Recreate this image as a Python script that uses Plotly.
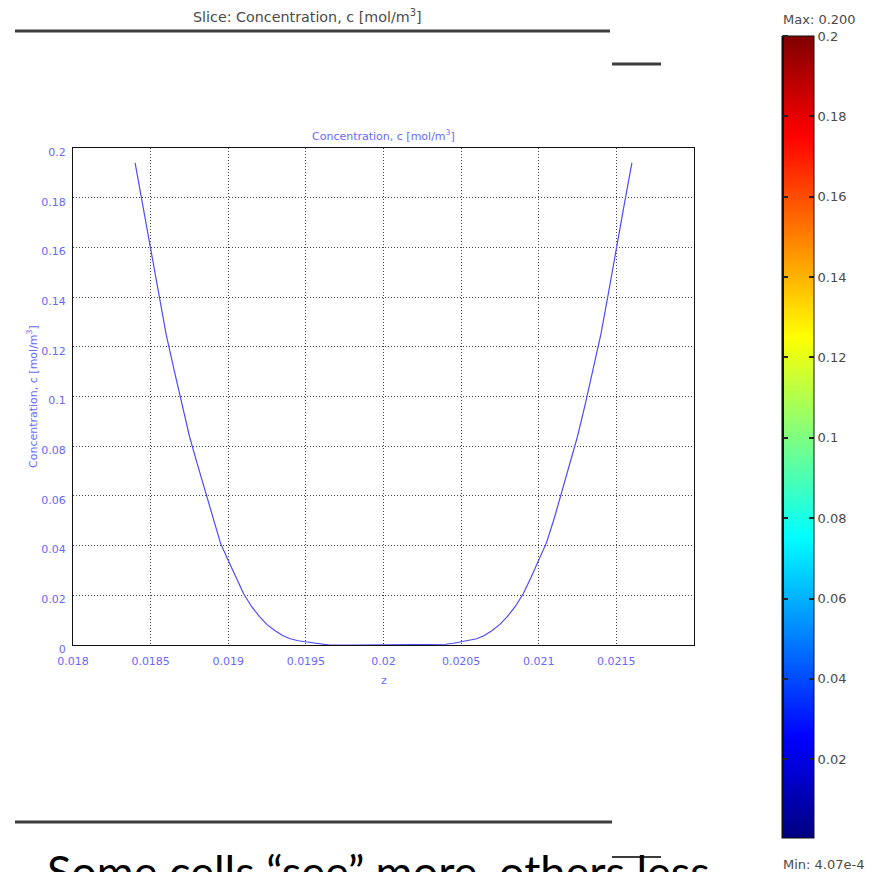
import plotly.graph_objects as go

# Line probe of the concentration field along z
z_pos = [
    0.01840, 0.01845, 0.01850, 0.01855, 0.01860, 0.01865, 0.01870, 0.01875,
    0.01880, 0.01885, 0.01890, 0.01895, 0.01900, 0.01905, 0.01910, 0.01915,
    0.01920, 0.01925, 0.01930, 0.01935, 0.01940, 0.01945, 0.01950, 0.01955,
    0.01960, 0.01965, 0.01980, 0.02000, 0.02020, 0.02035, 0.02040, 0.02045,
    0.02050, 0.02055, 0.02060, 0.02065, 0.02070, 0.02075, 0.02080, 0.02085,
    0.02090, 0.02095, 0.02100, 0.02105, 0.02110, 0.02115, 0.02120, 0.02125,
    0.02130, 0.02135, 0.02140, 0.02145, 0.02150, 0.02155, 0.02160,
]
conc = [
    0.194, 0.177, 0.160, 0.142, 0.125, 0.111, 0.097, 0.084,
    0.073, 0.062, 0.051, 0.041, 0.034, 0.027, 0.0205, 0.0155,
    0.0115, 0.0082, 0.0058, 0.0038, 0.0025, 0.0017, 0.0012, 0.0007,
    0.0003, 0.0, 0.0, 0.0, 0.0, 0.0, 0.0003, 0.0007,
    0.0012, 0.0017, 0.0025, 0.0038, 0.0058, 0.0083, 0.0116, 0.0156,
    0.0206, 0.0272, 0.0342, 0.0412, 0.051, 0.062, 0.073, 0.084,
    0.097, 0.111, 0.125, 0.142, 0.160, 0.177, 0.194,
]

x_ticks = [0.018, 0.0185, 0.019, 0.0195, 0.02, 0.0205, 0.021, 0.0215]
x_tick_text = ["0.018", "0.0185", "0.019", "0.0195", "0.02", "0.0205", "0.021", "0.0215"]
y_ticks = [0, 0.02, 0.04, 0.06, 0.08, 0.1, 0.12, 0.14, 0.16, 0.18, 0.2]
y_tick_text = ["0", "0.02", "0.04", "0.06", "0.08", "0.1", "0.12", "0.14", "0.16", "0.18", "0.2"]
cbar_ticks = [0.02, 0.04, 0.06, 0.08, 0.1, 0.12, 0.14, 0.16, 0.18, 0.2]
cbar_tick_text = ["0.02", "0.04", "0.06", "0.08", "0.1", "0.12", "0.14", "0.16", "0.18", "0.2"]
c_min = 4.07e-4
c_max = 0.200

W, H = 877, 872


def fx(px):
    return px / W


def fy(py):
    return 1 - py / H


jet = [
    [0.0, "rgb(0,0,128)"],
    [0.125, "rgb(0,0,255)"],
    [0.375, "rgb(0,255,255)"],
    [0.625, "rgb(255,255,0)"],
    [0.875, "rgb(255,0,0)"],
    [1.0, "rgb(128,0,0)"],
]

BLUE = "#6868ff"
small_font = dict(family="DejaVu Sans", size=11, color=BLUE)
gray_font = dict(family="DejaVu Sans", size=13, color="#4a4a4a")

fig = go.Figure()

fig.add_trace(go.Scatter(
    x=z_pos, y=conc, mode="lines",
    line=dict(color="#4c4cff", width=1.2),
    showlegend=False, hoverinfo="skip",
))

# colour legend of the slice plot
cbar_x = fx(782)
fig.add_trace(go.Scatter(
    x=[z_pos[0], z_pos[-1]], y=[c_min, c_max], mode="markers",
    marker=dict(
        size=1, opacity=0, color=[c_min, c_max], colorscale=jet,
        cmin=c_min, cmax=c_max, showscale=True,
        colorbar=dict(
            x=cbar_x, xanchor="left", xpad=0,
            y=fy(36), yanchor="top", ypad=0,
            thickness=32, thicknessmode="pixels",
            len=802, lenmode="pixels",
            outlinewidth=1, outlinecolor="#111",
            ticks="inside", ticklen=5, tickwidth=1.5, tickcolor="#222",
            tickmode="array", tickvals=cbar_ticks, ticktext=cbar_tick_text,
            tickfont=gray_font,
        ),
    ),
    showlegend=False, hoverinfo="skip",
))
# tick marks on the left edge of the colour legend
fig.add_trace(go.Scatter(
    x=[z_pos[0], z_pos[-1]], y=[c_min, c_max], mode="markers",
    marker=dict(
        size=1, opacity=0, color=[c_min, c_max],
        colorscale=[[0, "#111"], [1, "#111"]],
        cmin=c_min, cmax=c_max, showscale=True,
        colorbar=dict(
            x=cbar_x, xanchor="left", xpad=0,
            y=fy(36), yanchor="top", ypad=0,
            thickness=1, thicknessmode="pixels",
            len=802, lenmode="pixels",
            outlinewidth=0,
            ticks="outside", ticklen=5, tickwidth=1.5, tickcolor="#222",
            tickmode="array", tickvals=cbar_ticks,
            showticklabels=False,
        ),
    ),
    showlegend=False, hoverinfo="skip",
))

axis_common = dict(
    showline=True, mirror=True, linecolor="#111", linewidth=1.2,
    showgrid=True, gridcolor="#444", gridwidth=1, griddash="1px,2px",
    zeroline=False, ticks="", tickfont=small_font, tickmode="array",
    layer="above traces",
)

fig.update_layout(
    width=W, height=H,
    margin=dict(l=0, r=0, t=0, b=0, autoexpand=False),
    paper_bgcolor="white", plot_bgcolor="white",
    showlegend=False,
    xaxis=dict(
        domain=[fx(73), fx(694)], range=[0.018, 0.022],
        tickvals=x_ticks, ticktext=x_tick_text, ticklabelstandoff=6,
        **axis_common,
    ),
    yaxis=dict(
        domain=[fy(645), fy(148)], range=[0, 0.2],
        tickvals=y_ticks, ticktext=y_tick_text, ticklabelstandoff=4,
        ticklabelshift=4,
        **axis_common,
    ),
)

ann = [
    dict(text="Slice: Concentration, c [mol/m<sup>3</sup>]", x=fx(307), y=fy(16),
         xanchor="center", yanchor="middle",
         font=dict(family="DejaVu Sans", size=14.3, color="#4a4a4a")),
    dict(text="Concentration, c [mol/m<sup>3</sup>]", x=fx(383.5), y=fy(136),
         xanchor="center", yanchor="middle", font=small_font),
    dict(text="Concentration, c [mol/m<sup>3</sup>]", x=fx(32), y=fy(397),
         xanchor="center", yanchor="middle", textangle=-90, font=small_font),
    dict(text="z", x=fx(383.5), y=fy(680), xanchor="center", yanchor="middle",
         font=small_font),
    dict(text="Max: 0.200", x=fx(781), y=fy(19), xanchor="left", yanchor="middle",
         font=gray_font),
    dict(text="Min: 4.07e-4", x=fx(781), y=fy(864), xanchor="left", yanchor="middle",
         font=gray_font),
    dict(text="Some cells \u201csee\u201d more, others less", x=fx(45), y=fy(842),
         xanchor="left", yanchor="top",
         font=dict(family="Lato", size=45, color="#000")),
]
for a in ann:
    fig.add_annotation(xref="paper", yref="paper", showarrow=False, **a)

# slide rule lines
for (x0, y0, x1, y1, w) in [(15, 31, 610, 31, 3), (612, 64, 661, 64, 3),
                            (15, 822, 612, 822, 3), (612, 857, 661, 857, 2)]:
    fig.add_shape(type="line", xref="paper", yref="paper",
                  x0=fx(x0), y0=fy(y0), x1=fx(x1), y1=fy(y1),
                  line=dict(color="#3c3c3c", width=w))

fig.write_html("out.html", config={"displayModeBar": False})
